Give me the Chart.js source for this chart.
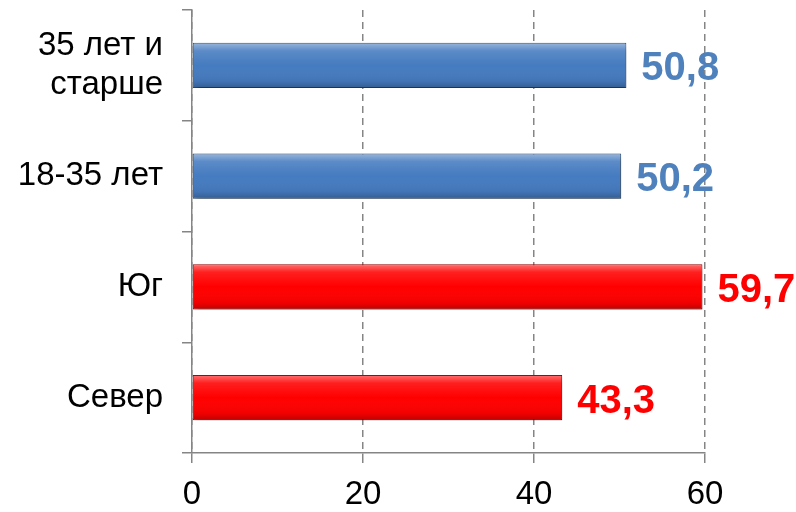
<!DOCTYPE html>
<html>
<head>
<meta charset="utf-8">
<script src="https://cdn.jsdelivr.net/npm/chart.js@4/dist/chart.umd.min.js"></script>
<style>
  html, body { margin: 0; padding: 0; background: #fff; }
  #wrap { width: 796px; height: 512px; }
</style>
</head>
<body>
<div id="wrap"><canvas id="chart"></canvas></div>
<script>
const categories = [["35 лет и", "старше"], "18-35 лет", "Юг", "Север"];
const values = [50.8, 50.2, 59.7, 43.3];
const barColors = ["#457bc0", "#457bc0", "#ff0000", "#ff0000"];
const labelColors = ["#4f81bd", "#4f81bd", "#ff0000", "#ff0000"];
const xTicks = [0, 20, 40, 60];

const FONT = "'Liberation Sans', Arial, sans-serif";

// shadow under bars + glossy highlight on top
const barStyle = {
  id: "barStyle",
  beforeDatasetDraw(chart) {
    const ctx = chart.ctx;
    ctx.save();
    ctx.shadowColor = "rgba(0,0,0,0.35)";
    ctx.shadowBlur = 6;
    ctx.shadowOffsetX = 2;
    ctx.shadowOffsetY = 4;
  },
  afterDatasetDraw(chart) {
    const ctx = chart.ctx;
    ctx.restore();
    const meta = chart.getDatasetMeta(0);
    meta.data.forEach((bar) => {
      const { x, y, base, height } = bar.getProps(["x", "y", "base", "height"], true);
      const top = y - height / 2;
      const g = ctx.createLinearGradient(0, top, 0, top + height);
      g.addColorStop(0, "rgba(255,255,255,0.45)");
      g.addColorStop(0.18, "rgba(255,255,255,0.12)");
      g.addColorStop(0.5, "rgba(255,255,255,0)");
      g.addColorStop(0.85, "rgba(0,0,0,0.06)");
      g.addColorStop(1, "rgba(0,0,0,0.25)");
      ctx.save();
      ctx.fillStyle = g;
      ctx.fillRect(base + 1, top + 1, x - base - 2, height - 2);
      ctx.restore();
    });
  },
  afterDatasetsDraw(chart) {
    const ctx = chart.ctx;
    const meta = chart.getDatasetMeta(0);
    ctx.save();
    ctx.font = "bold 40px " + FONT;
    ctx.textBaseline = "middle";
    ctx.textAlign = "left";
    meta.data.forEach((bar, i) => {
      ctx.fillStyle = labelColors[i];
      ctx.fillText(values[i].toFixed(1).replace(".", ","), bar.x + 15, bar.y + 4);
    });
    ctx.restore();
  }
};

new Chart(document.getElementById("chart"), {
  type: "bar",
  data: {
    labels: categories,
    datasets: [{
      data: values,
      backgroundColor: barColors,
      borderColor: ["#2c4d75", "#2c4d75", "#a00000", "#a00000"],
      borderWidth: 1,
      borderSkipped: false,
      barPercentage: 0.41,
      categoryPercentage: 1
    }]
  },
  options: {
    indexAxis: "y",
    responsive: true,
    maintainAspectRatio: false,
    animation: false,
    layout: { padding: { top: 10, right: 91, bottom: 0, left: 0 } },
    plugins: { legend: { display: false }, tooltip: { enabled: false } },
    scales: {
      x: {
        min: 0,
        max: 60,
        afterBuildTicks: (scale) => { scale.ticks = xTicks.map((v) => ({ value: v })); },
        afterFit: (scale) => { scale.height = 59; },
        grid: { color: "#858585", lineWidth: 1.5, tickLength: 10, tickColor: "#858585" },
        border: { display: true, color: "#858585", width: 1.5, dash: [7, 5] },
        ticks: { color: "#000", font: { size: 33, family: FONT }, padding: 12 }
      },
      y: {
        afterFit: (scale) => { scale.width = 192; scale.paddingTop = 0; scale.paddingBottom = 0; },
        grid: { offset: true, drawOnChartArea: false, tickLength: 10, color: "#858585", lineWidth: 1.5 },
        border: { display: true, color: "#858585", width: 1.5 },
        ticks: { color: "#000", font: { size: 33, family: FONT, lineHeight: 1.2 }, padding: 19 }
      }
    }
  },
  plugins: [barStyle]
});
</script>
</body>
</html>
